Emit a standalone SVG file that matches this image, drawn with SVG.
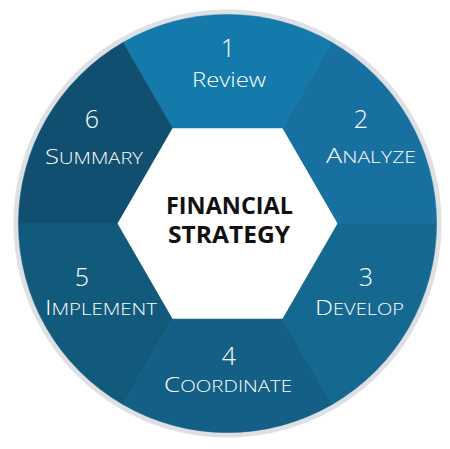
<svg xmlns="http://www.w3.org/2000/svg" width="450" height="449" viewBox="0 0 450 449">
<style>
.seg{stroke-width:0.6}
.num{font-family:"Open Sans",Lato,sans-serif;font-weight:300;font-size:25px;fill:#ffffff;text-anchor:middle}
.lbl{font-family:"Open Sans",Lato,sans-serif;font-weight:300;font-size:21px;fill:#ffffff;text-anchor:middle}
.sc{font-size:16.5px}
.ctr{font-family:"Open Sans",Lato,sans-serif;font-weight:700;font-size:23.5px;fill:#111111;text-anchor:middle}
</style>
<rect width="450" height="449" fill="#ffffff"/>
<circle cx="227.5" cy="223.5" r="214" fill="#dfe0e3"/>
<g id="connectors"/>
<g id="step1">
<path class="seg" d="M227.5 223.5 L123 42.5 A209 209 0 0 1 332 42.5 Z" fill="#137aab" stroke="#137aab"/>
<text class="num" x="228" y="57">1</text>
<text class="lbl" x="229" y="87" textLength="74" lengthAdjust="spacingAndGlyphs">Review</text>
</g>
<g id="step2">
<path class="seg" d="M227.5 223.5 L332 42.5 A209 209 0 0 1 436.5 223.5 Z" fill="#1770a0" stroke="#1770a0"/>
<text class="num" x="361" y="128">2</text>
<text class="lbl" x="371" y="163" textLength="90" lengthAdjust="spacingAndGlyphs">A<tspan class="sc">NALYZE</tspan></text>
</g>
<g id="step3">
<path class="seg" d="M227.5 223.5 L436.5 223.5 A209 209 0 0 1 332 404.5 Z" fill="#15688f" stroke="#15688f"/>
<text class="num" x="366" y="286">3</text>
<text class="lbl" x="359.5" y="315" textLength="89" lengthAdjust="spacingAndGlyphs">D<tspan class="sc">EVELOP</tspan></text>
</g>
<g id="step4">
<path class="seg" d="M227.5 223.5 L332 404.5 A209 209 0 0 1 123 404.5 Z" fill="#145f85" stroke="#145f85"/>
<text class="num" x="229" y="365">4</text>
<text class="lbl" x="228" y="392" textLength="128" lengthAdjust="spacingAndGlyphs">C<tspan class="sc">OORDINATE</tspan></text>
</g>
<g id="step5">
<path class="seg" d="M227.5 223.5 L123 404.5 A209 209 0 0 1 18.5 223.5 Z" fill="#125a7c" stroke="#125a7c"/>
<text class="num" x="82" y="286">5</text>
<text class="lbl" x="101" y="315" textLength="112" lengthAdjust="spacingAndGlyphs">I<tspan class="sc">MPLEMENT</tspan></text>
</g>
<g id="step6">
<path class="seg" d="M227.5 223.5 L18.5 223.5 A209 209 0 0 1 123 42.5 Z" fill="#114f70" stroke="#114f70"/>
<text class="num" x="92" y="128">6</text>
<text class="lbl" x="94" y="164" textLength="98" lengthAdjust="spacingAndGlyphs">S<tspan class="sc">UMMARY</tspan></text>
</g>
<g id="center">
<polygon points="337.5,223.5 282.5,318.8 172.5,318.8 117.5,223.5 172.5,128.2 282.5,128.2" fill="#ffffff"/>
<text class="ctr" x="229.5" y="214" textLength="127" lengthAdjust="spacingAndGlyphs">FINANCIAL</text>
<text class="ctr" x="229" y="243" textLength="122" lengthAdjust="spacingAndGlyphs">STRATEGY</text>
</g>
</svg>
